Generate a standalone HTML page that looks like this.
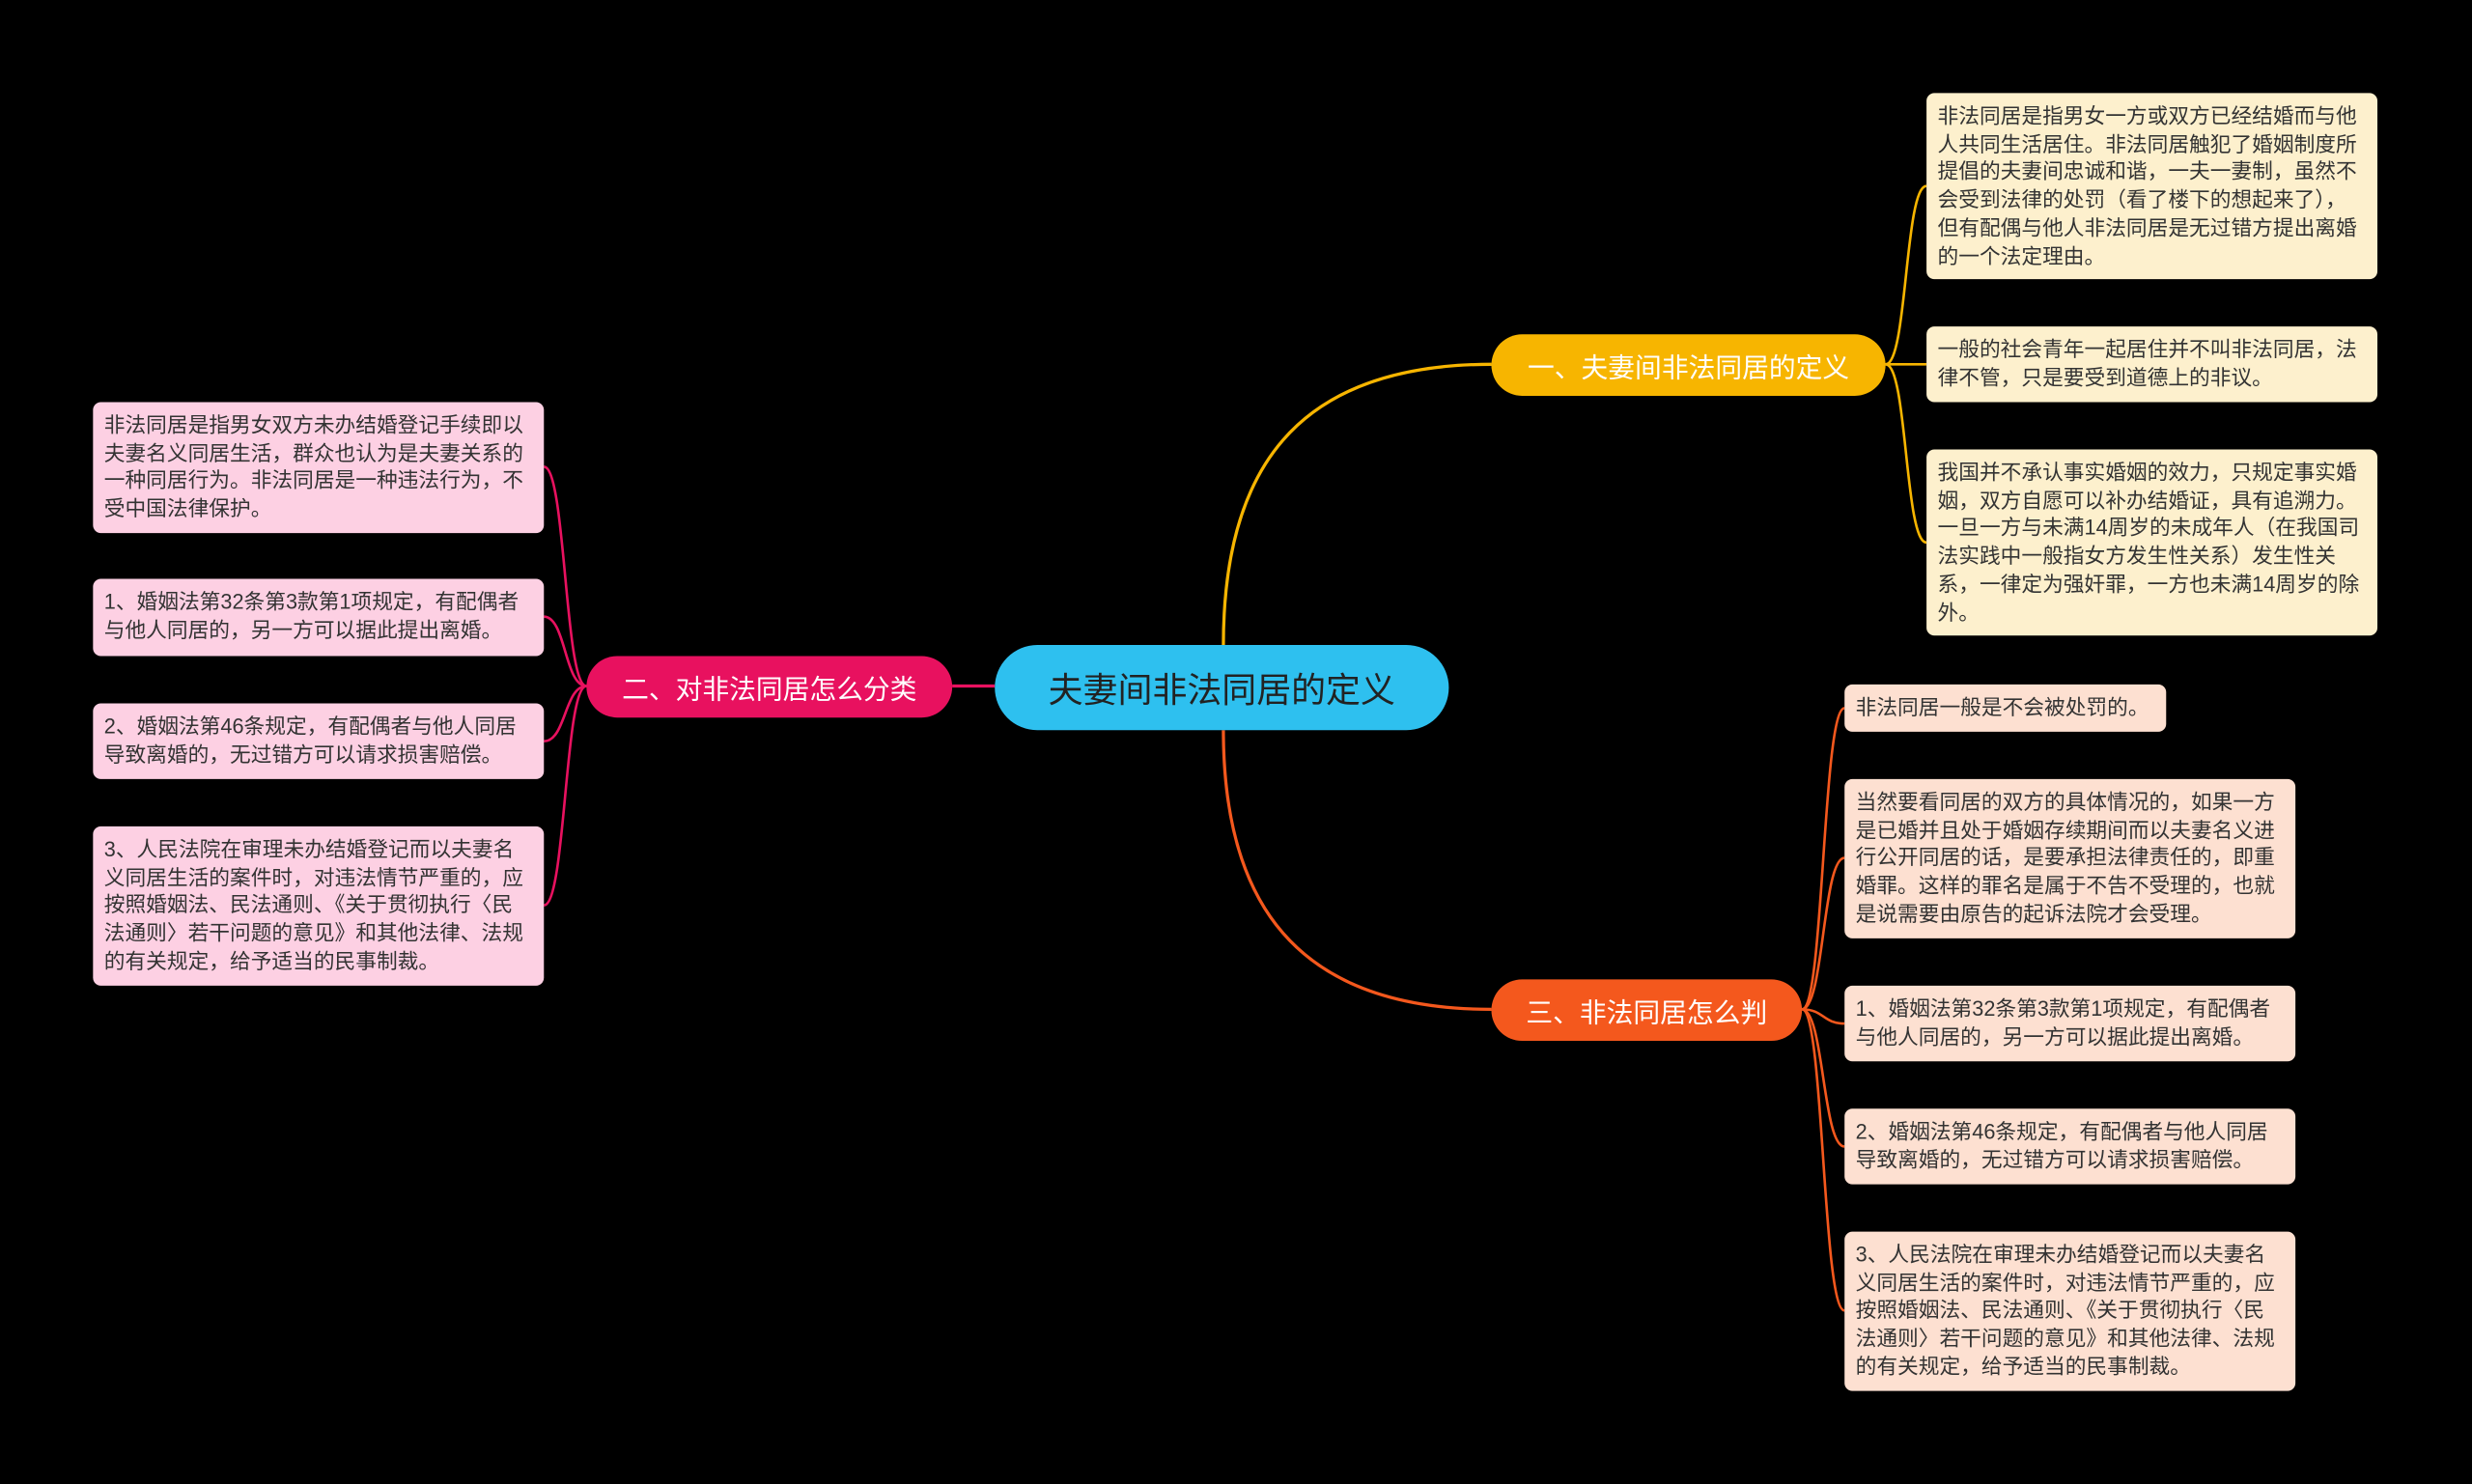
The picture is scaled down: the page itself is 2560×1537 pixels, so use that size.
<!DOCTYPE html>
<html><head><meta charset="utf-8"><style>
html,body{margin:0;padding:0;background:#000;width:2560px;height:1537px;overflow:hidden}
#w{position:absolute;left:0;top:0;width:1568px;height:941px;transform:scale(1.63265,1.6334);transform-origin:0 0;font-family:"Liberation Sans","Noto Sans CJK SC",sans-serif}
.n{position:absolute;box-sizing:border-box;border-radius:5px;font-size:13.3px;line-height:17.7px;color:#333;padding:6px 7px;word-break:break-all}
.b{position:absolute;box-sizing:border-box;border-radius:20px;color:#fff;font-size:17px;display:flex;align-items:center;justify-content:center}
.y{background:#fdf0cd}.p{background:#fdd0e3}.o{background:#fde0d1}
svg{position:absolute;left:0;top:0}
</style></head><body><div id="w">
<svg width="1568" height="941" fill="none" stroke-width="2">
<path d="M776 409 C776 300 820 231 946 231" stroke="#f7b500"/>
<path d="M776 463 C776 570 820 640 946 640" stroke="#f4581d"/>
<path d="M604 435 L631 435" stroke="#e8115f"/>
<g stroke="#f7b500" stroke-width="1.6">
<path d="M1196 231 C1210 231 1208 118 1222 118"/>
<path d="M1196 231 C1210 231 1208 231 1222 231"/>
<path d="M1196 231 C1210 231 1208 344 1222 344"/>
</g>
<g stroke="#e8115f" stroke-width="1.6">
<path d="M372 435 C358 435 359 296 345 296"/>
<path d="M372 435 C358 435 359 391 345 391"/>
<path d="M372 435 C358 435 359 470 345 470"/>
<path d="M372 435 C358 435 359 574 345 574"/>
</g>
<g stroke="#f4581d" stroke-width="1.6">
<path d="M1143 640 C1157 640 1156 449 1170 449"/>
<path d="M1143 640 C1157 640 1156 544 1170 544"/>
<path d="M1143 640 C1157 640 1156 649 1170 649"/>
<path d="M1143 640 C1157 640 1156 727 1170 727"/>
<path d="M1143 640 C1157 640 1156 831 1170 831"/>
</g>
</svg>
<div class="b" style="left:631px;top:409px;width:288px;height:54px;border-radius:27px;background:#2ec0ef;color:#222;font-size:22px">夫妻间非法同居的定义</div>
<div class="b" style="left:946px;top:212px;width:250px;height:39px;background:#f7b500">一、夫妻间非法同居的定义</div>
<div class="b" style="left:372px;top:416px;width:232px;height:39px;background:#e8115f">二、对非法同居怎么分类</div>
<div class="b" style="left:946px;top:621px;width:197px;height:39px;background:#f4581d">三、非法同居怎么判</div>

<div class="n y" style="left:1222px;top:59px;width:286px;height:118px">非法同居是指男女一方或双方已经结婚而与他人共同生活居住。非法同居触犯了婚姻制度所提倡的夫妻间忠诚和谐，一夫一妻制，虽然不会受到法律的处罚（看了楼下的想起来了），但有配偶与他人非法同居是无过错方提出离婚的一个法定理由。</div>
<div class="n y" style="left:1222px;top:207px;width:286px;height:48px">一般的社会青年一起居住并不叫非法同居，法律不管，只是要受到道德上的非议。</div>
<div class="n y" style="left:1222px;top:285px;width:286px;height:118px">我国并不承认事实婚姻的效力，只规定事实婚姻，双方自愿可以补办结婚证，具有追溯力。一旦一方与未满14周岁的未成年人（在我国司法实践中一般指女方发生性关系）发生性关系，一律定为强奸罪，一方也未满14周岁的除外。</div>

<div class="n p" style="left:59px;top:255px;width:286px;height:83px">非法同居是指男女双方未办结婚登记手续即以夫妻名义同居生活，群众也认为是夫妻关系的一种同居行为。非法同居是一种违法行为，不受中国法律保护。</div>
<div class="n p" style="left:59px;top:367px;width:286px;height:49px">1、婚姻法第32条第3款第1项规定，有配偶者与他人同居的，另一方可以据此提出离婚。</div>
<div class="n p" style="left:59px;top:446px;width:286px;height:48px">2、婚姻法第46条规定，有配偶者与他人同居导致离婚的，无过错方可以请求损害赔偿。</div>
<div class="n p" style="left:59px;top:524px;width:286px;height:101px">3、人民法院在审理未办结婚登记而以夫妻名义同居生活的案件时，对违法情节严重的，应按照婚姻法、民法通则、《关于贯彻执行〈民法通则〉若干问题的意见》和其他法律、法规的有关规定，给予适当的民事制裁。</div>

<div class="n o" style="left:1170px;top:434px;width:204px;height:30px">非法同居一般是不会被处罚的。</div>
<div class="n o" style="left:1170px;top:494px;width:286px;height:101px">当然要看同居的双方的具体情况的，如果一方是已婚并且处于婚姻存续期间而以夫妻名义进行公开同居的话，是要承担法律责任的，即重婚罪。这样的罪名是属于不告不受理的，也就是说需要由原告的起诉法院才会受理。</div>
<div class="n o" style="left:1170px;top:625px;width:286px;height:48px">1、婚姻法第32条第3款第1项规定，有配偶者与他人同居的，另一方可以据此提出离婚。</div>
<div class="n o" style="left:1170px;top:703px;width:286px;height:48px">2、婚姻法第46条规定，有配偶者与他人同居导致离婚的，无过错方可以请求损害赔偿。</div>
<div class="n o" style="left:1170px;top:781px;width:286px;height:101px">3、人民法院在审理未办结婚登记而以夫妻名义同居生活的案件时，对违法情节严重的，应按照婚姻法、民法通则、《关于贯彻执行〈民法通则〉若干问题的意见》和其他法律、法规的有关规定，给予适当的民事制裁。</div>
</div></body></html>
